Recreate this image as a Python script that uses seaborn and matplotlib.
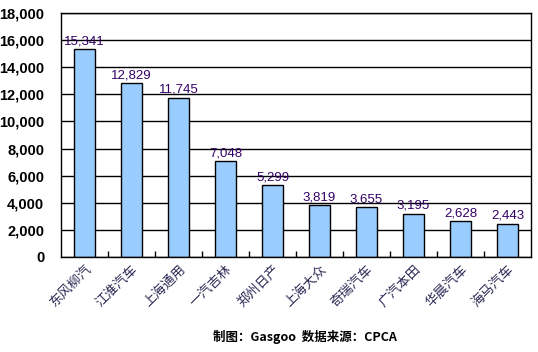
import matplotlib
matplotlib.use("Agg")
import matplotlib.pyplot as plt
import seaborn as sns
import pandas as pd
import numpy as np
from matplotlib.ticker import FuncFormatter, MultipleLocator, FixedLocator

companies = ["东风柳汽", "江淮汽车", "上海通用", "一汽吉林", "郑州日产",
             "上海大众", "奇瑞汽车", "广汽本田", "华晨汽车", "海马汽车"]
sales = [15341, 12829, 11745, 7048, 5299, 3819, 3655, 3195, 2628, 2443]
footer = "制图：Gasgoo  数据来源：CPCA"

sns.set_theme(style="white")
plt.rcParams['font.family'] = ['Liberation Sans', 'Noto Sans CJK SC', 'DejaVu Sans']

df = pd.DataFrame({"company": companies, "sales": sales})

fig = plt.figure(figsize=(5.38, 3.52), dpi=100)
ax = fig.add_axes([0.1134, 0.2699, 0.8736, 0.6932])

sns.barplot(data=df, x="company", y="sales", ax=ax, color="#99CCFF",
            edgecolor="black", linewidth=1.0, width=0.43, saturation=1)

ax.set_ylim(0, 18000)
ax.set_xlim(-0.5, len(companies) - 0.5)
ax.yaxis.set_major_locator(MultipleLocator(2000))
ax.yaxis.set_major_formatter(FuncFormatter(lambda v, p: f"{int(v):,}"))
ax.grid(axis="y", color="black", linewidth=1.0)
ax.set_axisbelow(True)
for s in ax.spines.values():
    s.set_color("black")
    s.set_linewidth(1.0)
ax.set_xlabel("")
ax.set_ylabel("")

for lbl in ax.get_yticklabels():
    lbl.set_fontweight("bold")
    lbl.set_fontsize(10.5)
ax.tick_params(axis="y", length=0, pad=12, colors="black")

ax.set_xticks(range(len(companies)))
ax.set_xticklabels(companies, rotation=45, ha="right", rotation_mode="anchor",
                   fontsize=9.5, color="#2a2a55", family=['Noto Sans CJK SC', 'DejaVu Sans'])
ax.tick_params(axis="x", length=0, pad=4)
ax.xaxis.set_minor_locator(FixedLocator(np.arange(0.5, len(companies) - 1, 1)))
ax.tick_params(axis="x", which="minor", direction="in", length=4, width=1, color="black", bottom=True)

for i, v in enumerate(sales):
    ax.text(i, v + 150, f"{v:,}", ha="center", va="bottom", fontsize=9.5, color="#330066")

fig.text(0.567, 0.043, footer, ha="center", va="center", fontsize=9, fontweight="bold",
         color="black", family=['Noto Sans CJK SC', 'DejaVu Sans'])

fig.savefig("out.png", dpi=100)
